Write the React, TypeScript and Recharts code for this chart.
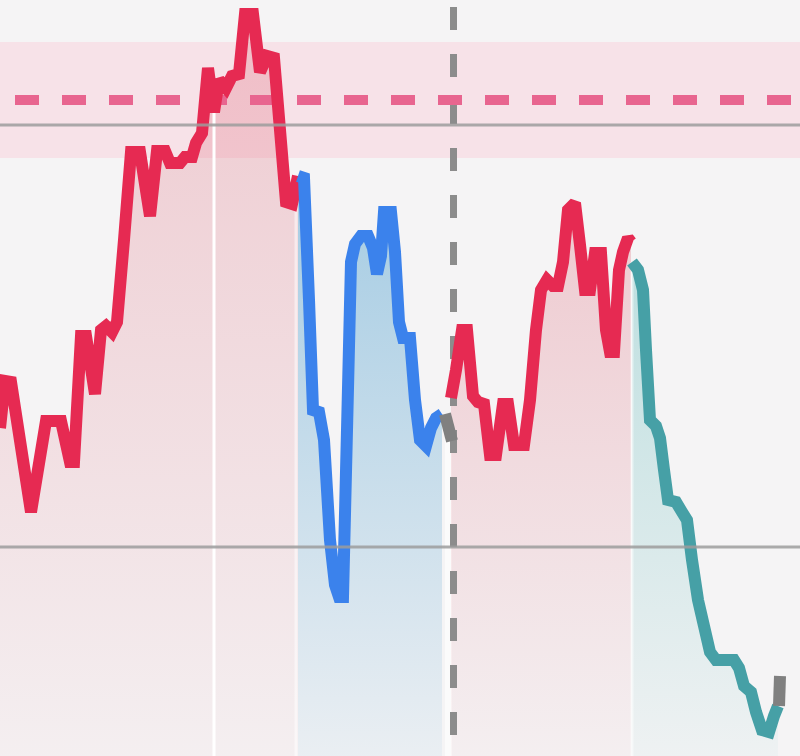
import React from "react";
import {
  ComposedChart, Area, Line, XAxis, YAxis, ReferenceLine, ReferenceArea,
} from "recharts";

// [time, level] pairs
const RED_A: [number, number][] = [
  [0, 328], [5, 375], [11, 374], [31, 244], [46, 335], [61, 335], [70, 294], [74, 294],
  [81, 420], [86, 420], [95, 362], [101, 426], [106, 430], [112, 424], [117, 434],
  [124, 516], [131, 604], [140, 604], [150, 540], [157, 605], [165, 605], [170, 593],
  [180, 593], [185, 599], [192, 599], [196, 613], [202, 623], [208, 688], [214, 644],
  [219, 676], [226, 668], [232, 680], [239, 682], [245, 742], [253, 742], [260, 684],
  [267, 700], [274, 698], [280, 626], [286, 554], [292, 552], [298, 580],
];
const BLUE: [number, number][] = [
  [298, 580], [304, 578], [309, 456], [313, 346], [319, 344], [324, 316], [330, 216],
  [335, 171], [339, 159], [343, 159], [347, 326], [351, 494], [355, 512], [361, 520],
  [368, 520], [373, 508], [377, 482], [381, 500], [384, 544], [391, 544], [395, 504],
  [399, 434], [403, 418], [410, 418], [415, 356], [420, 316], [426, 310], [431, 328],
  [436, 338], [442, 342],
];
const GRAY_A: [number, number][] = [[445, 342], [452, 315]];
const RED_B: [number, number][] = [
  [451, 358], [456, 386], [462, 426], [467, 426], [473, 360], [478, 354], [484, 352],
  [490, 301], [496, 301], [503, 352], [508, 352], [514, 311], [524, 311], [530, 356],
  [536, 426], [541, 466], [547, 476], [553, 470], [558, 470], [563, 494], [568, 546],
  [575, 553], [580, 511], [585, 466], [590, 466], [595, 503], [601, 503], [606, 426],
  [610, 404], [614, 404], [619, 486], [623, 504], [628, 518], [631, 514],
];
const TEAL: [number, number][] = [
  [632, 494], [638, 486], [643, 466], [646, 406], [650, 336], [656, 330], [660, 318],
  [664, 286], [668, 256], [676, 254], [682, 244], [687, 236], [692, 196], [698, 156],
  [704, 130], [710, 104], [716, 96], [726, 96], [734, 96], [739, 88], [744, 70],
  [751, 64], [756, 44], [762, 26], [769, 24], [774, 40], [778, 50],
];
const GRAY_B: [number, number][] = [[779, 50], [780, 80]];

const BAND = [598, 714];
const TARGET = 656;
const LEVEL_HIGH = 631;
const LEVEL_LOW = 209;
const NOW_T = 453.5;
const SPLITS = [214, 296, 632];

const pts = (pairs: [number, number][]) => pairs.map(([t, v]) => ({ t, v }));

const segments = [
  { key: "redA", data: pts(RED_A), color: "#e62a52", fill: "url(#gRed)" },
  { key: "blue", data: pts(BLUE), color: "#3b82ec", fill: "url(#gBlue)" },
  { key: "grayA", data: pts(GRAY_A), color: "#808080", fill: "#ffffff" },
  { key: "redB", data: pts(RED_B), color: "#e62a52", fill: "url(#gRed)" },
  { key: "teal", data: pts(TEAL), color: "#46a0a6", fill: "url(#gTeal)" },
  { key: "grayB", data: pts(GRAY_B), color: "#808080", fill: "none" },
];

const valueAt = (t: number) => {
  const all = [...RED_A, ...BLUE, ...RED_B, ...TEAL];
  let best = all[0];
  for (const p of all) if (Math.abs(p[0] - t) < Math.abs(best[0] - t)) best = p;
  return best[1];
};

export default function App() {
  return (
    <div style={{ position: "absolute", left: 0, top: 0, width: 800, height: 756, background: "#f5f4f5" }}>
      <ComposedChart width={800} height={756} margin={{ top: 0, right: 0, bottom: 0, left: 0 }}>
        <defs>
          <linearGradient id="gRed" x1="0" y1="0" x2="0" y2="1">
            <stop offset="0%" stopColor="#e07080" stopOpacity={0.32} />
            <stop offset="100%" stopColor="#e07080" stopOpacity={0.04} />
          </linearGradient>
          <linearGradient id="gBlue" x1="0" y1="0" x2="0" y2="1">
            <stop offset="0%" stopColor="#6aaed6" stopOpacity={0.58} />
            <stop offset="100%" stopColor="#6aaed6" stopOpacity={0.08} />
          </linearGradient>
          <linearGradient id="gTeal" x1="0" y1="0" x2="0" y2="1">
            <stop offset="0%" stopColor="#6cc0c0" stopOpacity={0.4} />
            <stop offset="100%" stopColor="#6cc0c0" stopOpacity={0.05} />
          </linearGradient>
        </defs>
        <XAxis type="number" dataKey="t" domain={[0, 800]} hide allowDataOverflow />
        <YAxis type="number" domain={[0, 756]} hide allowDataOverflow />
        <ReferenceArea y1={BAND[0]} y2={BAND[1]} fill="#f7e2e8" fillOpacity={1} stroke="none" />
        {segments.map((s) => (
          <Area
            key={`a-${s.key}`}
            data={s.data}
            dataKey="v"
            type="linear"
            stroke="none"
            fill={s.fill}
            fillOpacity={s.key === "grayA" ? 0.6 : 1}
            isAnimationActive={false}
            dot={false}
            activeDot={false}
          />
        ))}
        {SPLITS.map((t, i) => (
          <ReferenceLine
            key={`sp-${t}`}
            segment={[{ x: t, y: 0 }, { x: t, y: valueAt(t) }]}
            stroke="#ffffff"
            strokeOpacity={i === 0 ? 1 : 0.5}
            strokeWidth={3}
          />
        ))}
        <ReferenceLine x={NOW_T} stroke="#8c8c8c" strokeWidth={7} strokeDasharray="23 24" strokeDashoffset={26} />
        <ReferenceLine y={TARGET} stroke="#e8658f" strokeWidth={10} strokeDasharray="24 23" strokeDashoffset={32} />
        {segments.map((s) => (
          <Line
            key={`l-${s.key}`}
            data={s.data}
            dataKey="v"
            type="linear"
            stroke={s.color}
            strokeWidth={12}
            strokeLinejoin="miter"
            strokeMiterlimit={2}
            dot={false}
            activeDot={false}
            isAnimationActive={false}
          />
        ))}
        <ReferenceLine y={LEVEL_HIGH} stroke="#9c9c9c" strokeOpacity={0.85} strokeWidth={3} />
        <ReferenceLine y={LEVEL_LOW} stroke="#9c9c9c" strokeOpacity={0.85} strokeWidth={3} />
      </ComposedChart>
    </div>
  );
}
